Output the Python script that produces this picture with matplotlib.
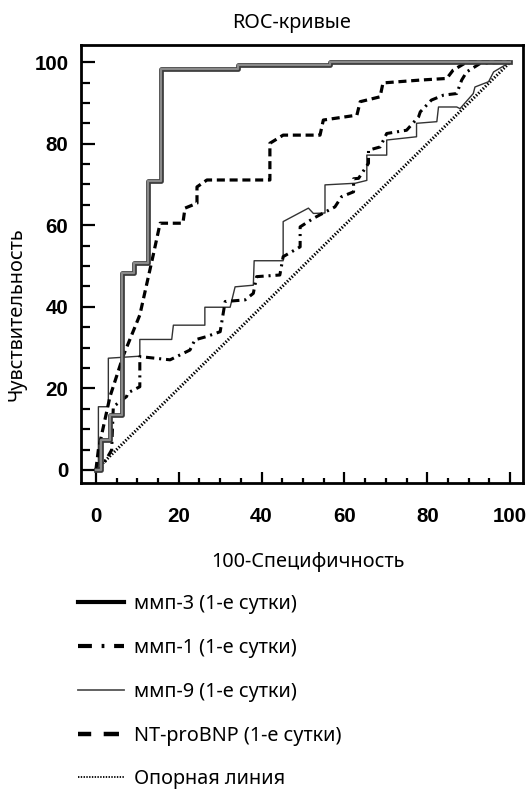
import matplotlib
matplotlib.use("Agg")
import matplotlib.pyplot as plt
from matplotlib.lines import Line2D
import matplotlib.patheffects as pe
from matplotlib.ticker import MultipleLocator

plt.rcParams['font.family'] = ['Noto Sans', 'DejaVu Sans']
plt.rcParams['lines.scale_dashes'] = False

# ---- data (FPR = 100-Specificity, TPR = Sensitivity) ----
mmp3_x = [0, 1.3, 1.3, 3.4, 3.4, 6.2, 6.2, 9.2, 9.2, 12.6, 12.6, 15.7, 15.7, 34.3, 34.3, 56.5, 56.5, 100]
mmp3_y = [0, 0, 7.4, 7.4, 13.5, 13.5, 48.4, 48.4, 50.7, 50.7, 70.8, 70.8, 98.3, 98.3, 99.3, 99.3, 100, 100]

mmp1_x = [0, 1.0, 3.8, 4.2, 7.4, 7.7, 10.6, 10.6, 17.9, 22.7, 23.9, 26.7, 30.0, 31.2, 36.0, 38.0, 38.8,
          44.4, 45.2, 49.3, 49.3, 52.5, 57.7, 59.3, 62.2, 62.2, 63.4, 65.8, 65.8, 68.6, 70.2, 75.0, 77.9,
          78.3, 81.0, 83.9, 87.1, 88.3, 89.5, 92.8, 100]
mmp1_y = [0, 0, 4.9, 15.5, 18, 18.9, 20.4, 27.8, 27, 29.4, 31.9, 32.7, 33.9, 41.3, 41.7, 43.3, 47.4,
          47.8, 52.3, 54.7, 59.6, 61.7, 64.5, 67, 68.2, 71.4, 71.5, 75.2, 78.4, 79.2, 82.5, 83.3, 86.6,
          87.8, 90.7, 91.9, 92.3, 95.6, 97.6, 99.7, 100]

mmp9_x = [0, 0.6, 0.6, 3.0, 3.0, 10.6, 10.6, 18.3, 18.7, 26.3, 26.3, 32.4, 33.6, 38.0, 38.2, 45.2, 45.2,
          51.3, 52.5, 55.3, 55.3, 62.6, 65.4, 65.4, 70.2, 70.2, 77.4, 77.4, 82.3, 82.7, 87.1, 87.9, 91.1,
          91.5, 94.8, 96.0, 100]
mmp9_y = [0, 0, 15.5, 15.5, 27.4, 27.9, 32, 32, 35.5, 35.5, 39.9, 39.9, 44.9, 45.3, 51.3, 51.3, 60.9,
          64.2, 62.9, 63, 69.9, 70.3, 71, 77.2, 77.2, 80.9, 81.7, 85, 85.4, 89, 89, 88.6, 92.3,
          93.9, 95.2, 97.6, 100]

nt_x = [0, 0.6, 3.4, 6.6, 10.6, 13.9, 15.5, 21.0, 21.5, 24.4, 24.4, 26.8, 42.0, 42.0, 45.2, 54.1, 54.9,
        63.0, 63.8, 68.6, 69.3, 78.3, 84.7, 86.2, 89.5, 100]
nt_y = [0, 5, 18, 28, 38, 53, 60.5, 60.5, 64.2, 65.4, 69.4, 71.1, 71.1, 80.1, 82.1, 82.1, 85.8,
        87, 90.3, 91.5, 94.9, 95.6, 96, 98, 100, 100]

ref_x = [0, 100]
ref_y = [0, 100]

labels = ["ммп-3 (1-е сутки)", "ммп-1 (1-е сутки)", "ммп-9 (1-е сутки)",
          "NT-proBNP (1-е сутки)", "Опорная линия"]
ticks = [0, 20, 40, 60, 80, 100]

W, H = 526, 792
fig = plt.figure(figsize=(W / 100, H / 100), dpi=100)
ax = fig.add_axes([81 / W, 1 - 483 / H, (523 - 81) / W, (483 - 45) / H])

ax.plot(ref_x, ref_y, color='black', lw=2.2, linestyle=(0, (1.0, 1.3)))
ax.plot(mmp9_x, mmp9_y, color='#333333', lw=1.0)
ax.plot(mmp1_x, mmp1_y, color='black', lw=2.2, linestyle=(0, (6, 3.5, 1.5, 3.5)))
ax.plot(nt_x, nt_y, color='black', lw=2.3, linestyle=(0, (5.8, 3.4)))
ax.plot(mmp3_x, mmp3_y, color='#8a8a8a', lw=1.6,
        path_effects=[pe.Stroke(linewidth=3.4, foreground='#3a3a3a'), pe.Normal()])

ax.set_xlim(-3.6, 103.1)
ax.set_ylim(-3.2, 104.2)
ax.set_xticks(ticks)
ax.set_yticks(ticks)
tick_font = dict(family=['Liberation Sans', 'DejaVu Sans'], fontweight='bold', fontsize=14.8)
ax.set_xticklabels([str(t) for t in ticks], **tick_font)
ax.set_yticklabels([str(t) for t in ticks], **tick_font)
ax.xaxis.set_minor_locator(MultipleLocator(5))
ax.yaxis.set_minor_locator(MultipleLocator(5))
for s in ax.spines.values():
    s.set_linewidth(2.0)
ax.tick_params(axis='both', which='both', direction='in', top=False, right=False, width=1.6)
ax.tick_params(axis='x', which='major', length=8, pad=17)
ax.tick_params(axis='x', which='minor', length=3.5)
ax.tick_params(axis='y', which='major', length=10, pad=9)
ax.tick_params(axis='y', which='minor', length=6.5)

fs = 14.3
fig.text(292 / W, 1 - 23 / H, "ROC-кривые", ha='center', va='center', fontsize=fs)
fig.text(308 / W, 1 - 562 / H, "100-Специфичность", ha='center', va='center', fontsize=fs)
fig.text(17 / W, 1 - 314 / H, "Чувствительность", ha='center', va='center', rotation=90, fontsize=fs)

handles = [
    Line2D([], [], color='black', lw=3.0),
    Line2D([], [], color='black', lw=3.0, linestyle=(0, (10, 7, 2, 7))),
    Line2D([], [], color='#555555', lw=1.3),
    Line2D([], [], color='black', lw=3.2, linestyle=(1.5, (11, 9))),
    Line2D([], [], color='black', lw=1.3, linestyle=(0, (1, 1))),
]
fig.legend(handles, labels, loc='upper left', bbox_to_anchor=(78 / W, 1 - 594 / H),
           frameon=False, fontsize=fs, handlelength=2.3, handletextpad=0.5,
           labelspacing=1.2, borderpad=0, borderaxespad=0)

fig.savefig("out.png", dpi=100)
